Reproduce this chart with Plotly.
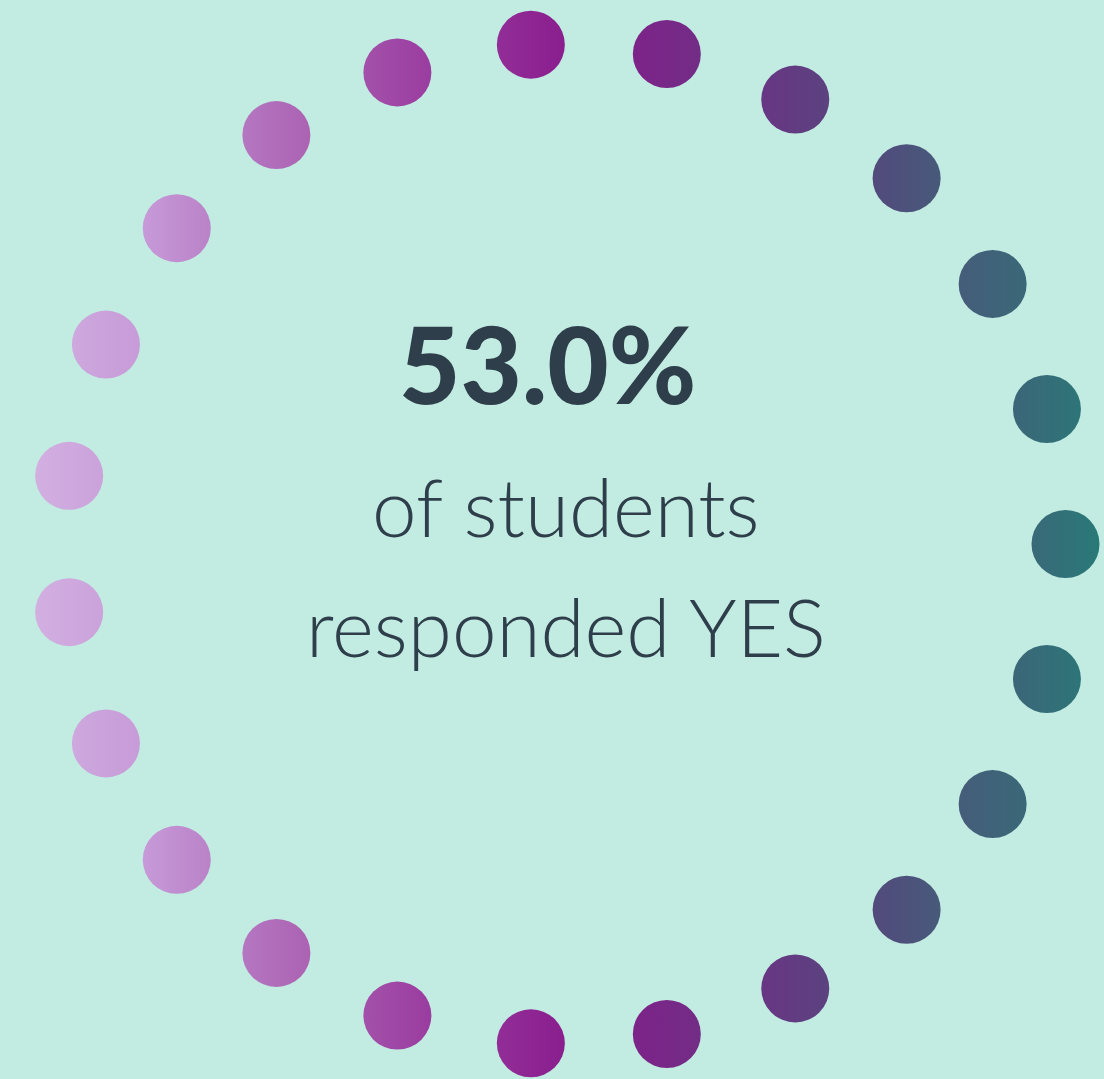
import numpy as np
import plotly.graph_objects as go

# ---- data ----
percent_value = 53.0
label_lines = ["of students", "responded YES"]
n_dots = 23

# horizontal colour ramp (position across width 0..1, colour)
ramp_pos = [0.00, 0.13, 0.20, 0.28, 0.39, 0.51, 0.58, 0.69, 0.79, 0.86, 0.93, 1.00]
ramp_col = ["#d6b6e4", "#c79ad8", "#b87ec6", "#ab62b2", "#9a3ca0", "#8a1e8e",
            "#7c2488", "#683684", "#524a7c", "#465c7a", "#3a6878", "#287a78"]

W, H = 1104, 1079
cx, cy, R = 565, 544, 500.5
dot_d = 68


def hex2rgb(h):
    h = h.lstrip("#")
    return np.array([int(h[i:i + 2], 16) for i in (0, 2, 4)], dtype=float)


ramp_rgb = [hex2rgb(c) for c in ramp_col]


def color_at(x):
    t = min(max(x / W, 0.0), 1.0)
    for i in range(len(ramp_pos) - 1):
        if ramp_pos[i] <= t <= ramp_pos[i + 1]:
            f = (t - ramp_pos[i]) / (ramp_pos[i + 1] - ramp_pos[i])
            c = ramp_rgb[i] * (1 - f) + ramp_rgb[i + 1] * f
            return "rgb(%d,%d,%d)" % tuple(np.round(c))
    return ramp_col[-1]


angles = np.deg2rad(90 + np.arange(n_dots) * 360.0 / n_dots)
xs = cx + R * np.sin(angles)
ys = cy - R * np.cos(angles)
left_cols = [color_at(x - dot_d / 2) for x in xs]
right_cols = [color_at(x + dot_d / 2) for x in xs]

fig = go.Figure()
fig.add_trace(go.Scatter(
    x=xs, y=ys, mode="markers",
    marker=dict(size=dot_d, color=left_cols,
                gradient=dict(type="horizontal", color=right_cols),
                line=dict(width=0)),
    hoverinfo="skip", showlegend=False,
))

text_col = "#2e3f4b"
fig.add_annotation(x=547, y=363, xref="x", yref="y", text="%.1f%%" % percent_value,
                   showarrow=False, font=dict(family="Lato", size=106, color=text_col, weight=900),
                   xanchor="center", yanchor="middle")
fig.add_annotation(x=566, y=506, xref="x", yref="y", text=label_lines[0],
                   showarrow=False, font=dict(family="Lato", size=80, color=text_col, weight=300),
                   xanchor="center", yanchor="middle")
fig.add_annotation(x=566, y=626, xref="x", yref="y", text=label_lines[1],
                   showarrow=False, font=dict(family="Lato", size=80, color=text_col, weight=300),
                   xanchor="center", yanchor="middle")

fig.update_layout(
    width=W, height=H, margin=dict(l=0, r=0, t=0, b=0),
    paper_bgcolor="#c2ebe1", plot_bgcolor="#c2ebe1",
    xaxis=dict(range=[0, W], visible=False, fixedrange=True),
    yaxis=dict(range=[H, 0], visible=False, fixedrange=True),
)
fig.write_html("out.html", config={"displayModeBar": False})
